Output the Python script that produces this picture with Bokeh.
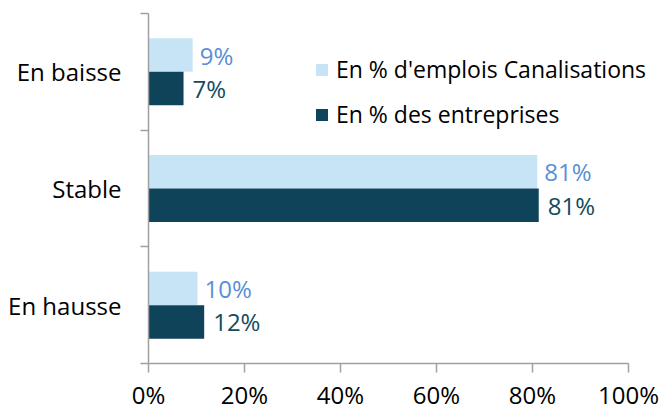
from bokeh.plotting import figure
from bokeh.models import (ColumnDataSource, Range1d, FixedTicker, LabelSet,
                          Legend, LegendItem, PrintfTickFormatter)
from bokeh.core.properties import value
from bokeh.transform import dodge
from bokeh.embed import file_html
from bokeh.resources import INLINE

# ---- data (top to bottom as in the chart) ----
categories = ["En baisse", "Stable", "En hausse"]
series_names = ["En % d'emplois Canalisations", "En % des entreprises"]
emplois = [9.2, 81.0, 10.2]
entreprises = [7.3, 81.3, 11.6]
x_ticks = [0, 20, 40, 60, 80, 100]

FONT = "Open Sans"
LIGHT = "#C6E4F6"
DARK = "#0F4359"
LIGHT_TXT = "#5A8FD6"
DARK_TXT = "#134B60"
AXIS = "#A0A0A0"

n = len(categories)
ypos = [n - 0.5 - i for i in range(n)]
src = ColumnDataSource(dict(
    y=ypos, cat=categories, a=emplois, b=entreprises,
    la=[f"{round(v)}%" for v in emplois],
    lb=[f"{round(v)}%" for v in entreprises],
))

# frame: 148 px from left, 480 px for 0..100 %, extended to the right edge
x_max = 100 * 515 / 480
p = figure(frame_width=515, frame_height=350, output_backend="svg",
           toolbar_location=None,
           x_range=Range1d(0, x_max), y_range=Range1d(0, n),
           min_border_left=148, min_border_right=0, min_border_top=13,
           min_border_bottom=0)
p.outline_line_color = None
p.xgrid.visible = False
p.ygrid.visible = False
p.background_fill_color = "white"

bh = 0.287
off = bh / 2
r1 = p.hbar(y=dodge("y", off), right="a", left=0, height=bh, source=src,
            fill_color=LIGHT, line_color=None)
r2 = p.hbar(y=dodge("y", -off), right="b", left=0, height=bh, source=src,
            fill_color=DARK, line_color=None)

fs = "24px"
p.add_layout(LabelSet(x="a", y=dodge("y", off), text="la", source=src,
                      x_offset=7, text_baseline="middle", text_align="left",
                      text_font=value(FONT), text_font_size=value(fs),
                      text_color=LIGHT_TXT))
p.add_layout(LabelSet(x="b", y=dodge("y", -off), text="lb", source=src,
                      x_offset=9, text_baseline="middle", text_align="left",
                      text_font=value(FONT), text_font_size=value(fs),
                      text_color=DARK_TXT))

# x axis
xa = p.xaxis[0]
xa.ticker = FixedTicker(ticks=x_ticks)
xa.bounds = (x_ticks[0], x_ticks[-1])
xa.formatter = PrintfTickFormatter(format="%d%%")
xa.major_tick_in = 0
xa.major_tick_out = 9
xa.minor_tick_line_color = None
xa.axis_line_color = AXIS
xa.axis_line_width = 1.5
xa.major_tick_line_color = AXIS
xa.major_tick_line_width = 1.5
xa.major_label_text_font = FONT
xa.major_label_text_font_size = fs
xa.major_label_text_color = "black"
xa.major_label_standoff = 5

# y axis: labels at category centres, ticks at boundaries
ya = p.yaxis[0]
ya.ticker = FixedTicker(ticks=ypos, minor_ticks=list(range(n + 1)))
ya.major_label_overrides = {y: c for y, c in zip(ypos, categories)}
ya.major_tick_in = 0
ya.major_tick_out = 0
ya.major_tick_line_color = None
ya.minor_tick_in = 0
ya.minor_tick_out = 8
ya.minor_tick_line_color = AXIS
ya.minor_tick_line_width = 1.5
ya.axis_line_color = AXIS
ya.axis_line_width = 1.5
ya.major_label_text_font = FONT
ya.major_label_text_font_size = fs
ya.major_label_text_color = "black"
ya.major_label_standoff = 19

legend = Legend(items=[LegendItem(label=series_names[0], renderers=[r1]),
                       LegendItem(label=series_names[1], renderers=[r2])],
                location=(166, 233), orientation="vertical",
                glyph_width=15, glyph_height=15, label_standoff=7,
                spacing=13, padding=0, margin=0,
                border_line_color=None, background_fill_alpha=0,
                label_text_font=FONT, label_text_font_size="23px",
                label_text_color="black")
p.add_layout(legend)

open("out.html", "w").write(file_html(p, INLINE))
